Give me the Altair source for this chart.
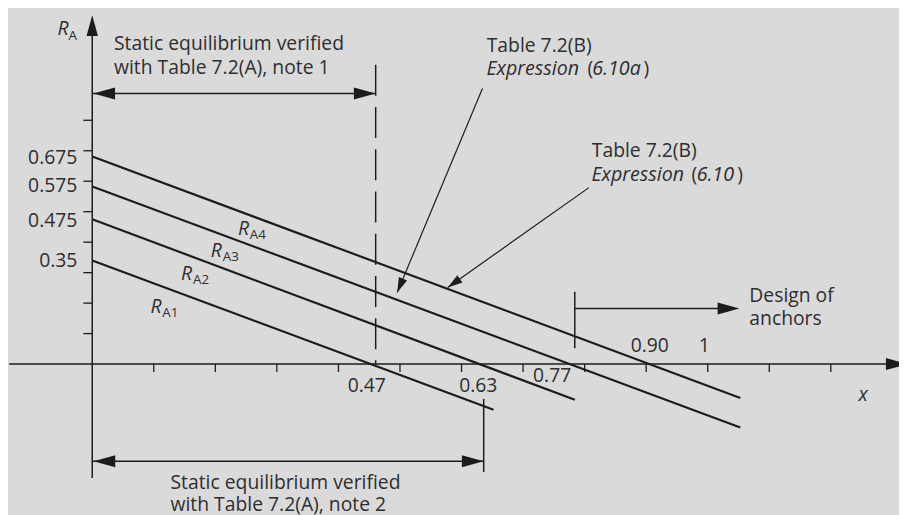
import altair as alt
import pandas as pd

# ---------------- data ----------------
# the four reaction lines R_A1..R_A4 (start on the R_A axis, end lower right)
series = ["A1", "A2", "A3", "A4"]
start_x = [0.0, 0.0, 0.0, 0.0]
start_r = [0.340, 0.475, 0.583, 0.681]
end_x = [0.652, 0.784, 1.053, 1.053]
end_r = [-0.150, -0.117, -0.208, -0.111]

# value labels on the R_A axis
r_labels = ["0.35", "0.475", "0.575", "0.675"]
r_label_y = [0.3187, 0.4488, 0.5659, 0.6569]

# axis ticks
x_ticks = [0.1, 0.2, 0.3, 0.4, 0.5, 0.6, 0.7, 0.8, 0.9, 1.0, 1.1, 1.2]
y_ticks = [0.1, 0.2, 0.3, 0.4, 0.5, 0.6, 0.7, 0.8]

# value labels along x
x_labels = ["0.47", "0.63", "0.77", "0.90", "1"]
x_label_x = [0.4461, 0.6272, 0.7472, 0.9058, 0.9944]
x_label_y = [-0.0911, -0.0911, -0.0585, 0.0390, 0.0390]

# limits
note1_x = 0.4605     # static equilibrium, note 1
note2_x = 0.636      # static equilibrium, note 2
anchors_x = 0.784    # design of anchors

# line labels (R part anchor)
line_label_x = [0.0945, 0.1444, 0.1927, 0.2367]
line_label_y = [0.1680, 0.2764, 0.3522, 0.4228]

# ---------------- scales ----------------
XMIN, XMAX = -0.136876, 1.310789
YMIN, YMAX = -0.487805, 1.160976
XS = alt.Scale(domain=[XMIN, XMAX], nice=False, zero=False)
YS = alt.Scale(domain=[YMIN, YMAX], nice=False, zero=False)

LINE = "#1c1c1c"
TXT = "#2e2e2e"
FONT = "Open Sans"
FS = 19.5


def X(f):
    return alt.X(f"{f}:Q", scale=XS, axis=None)


def Y(f):
    return alt.Y(f"{f}:Q", scale=YS, axis=None)


def seg_chart(df, **kw):
    return alt.Chart(df).mark_rule(color=LINE, **kw).encode(
        x=X("x"), y=Y("y"), x2="x2:Q", y2="y2:Q"
    )


# reaction lines
lines_df = pd.DataFrame({"s": series, "x": start_x, "y": start_r, "x2": end_x, "y2": end_r})
lines = seg_chart(lines_df, strokeWidth=2.2)

# axes
axes_df = pd.DataFrame({
    "x": [-0.135, 0.0],
    "y": [0.0, -0.374],
    "x2": [1.31, 0.0],
    "y2": [0.0, 1.12],
})
axes = seg_chart(axes_df, strokeWidth=1.5)

ytick_df = pd.DataFrame({"x": [0.0] * len(y_ticks), "y": y_ticks, "x2": [0.0] * len(y_ticks), "y2": y_ticks})
yticks = alt.Chart(ytick_df).mark_rule(color=LINE, strokeWidth=1.3, x2Offset=-9).encode(
    x=X("x"), y=Y("y"), x2="x2:Q"
)
xtick_df = pd.DataFrame({"x": x_ticks, "y": [0.0] * len(x_ticks), "y2": [0.0] * len(x_ticks)})
xticks = alt.Chart(xtick_df).mark_rule(color=LINE, strokeWidth=1.3, y2Offset=8).encode(
    x=X("x"), y=Y("y"), y2="y2:Q"
)

# dimension lines
dim_df = pd.DataFrame({
    "x": [0.0, note2_x, 0.0, anchors_x, anchors_x],
    "y": [0.888, -0.114, -0.3187, 0.237, 0.182],
    "x2": [note1_x, note2_x, note2_x, anchors_x, 1.04],
    "y2": [0.888, -0.354, -0.3187, 0.052, 0.182],
})
dims = seg_chart(dim_df, strokeWidth=1.5)

dash_df = pd.DataFrame({"x": [note1_x], "y": [0.982], "x2": [note1_x], "y2": [0.0]})
dashed = seg_chart(dash_df, strokeWidth=1.5, strokeDash=[31.3, 11.3])

leader_df = pd.DataFrame({
    "x": [0.634, 0.807],
    "y": [0.904, 0.579],
    "x2": [0.4955, 0.5776],
    "y2": [0.2351, 0.2514],
})
leaders = seg_chart(leader_df, strokeWidth=1.2)

# arrowheads (tip at the data point)
BIG = "M0,0L-2,-0.55L-2,0.55Z"
SMALL = "M0,0L-2,-0.6L-2,0.6Z"


def heads(xs, ys, angle, shape, size):
    df = pd.DataFrame({"x": xs, "y": ys})
    return alt.Chart(df).mark_point(
        shape=shape, size=size, angle=angle, filled=True, opacity=1, color=LINE
    ).encode(x=X("x"), y=Y("y"))


h_right = heads([note1_x, note2_x, 1.0515, 1.325], [0.888, -0.3187, 0.182, 0.0], 0, BIG, 484)
h_left = heads([0.0016, 0.002], [0.888, -0.3187], 180, BIG, 484)
h_up = heads([0.0], [1.1447], 270, BIG, 440)
h_l1 = heads([0.4955], [0.2351], 112.8, SMALL, 225)
h_l2 = heads([0.5776], [0.2514], 144.85, SMALL, 225)


def texts(xs, ys, labels, align="left", italic=False, size=FS, dx=0, dy=0):
    df = pd.DataFrame({"x": xs, "y": ys, "t": labels})
    kw = dict(align=align, baseline="alphabetic", font=FONT, fontSize=size, color=TXT, dx=dx, dy=dy)
    if italic:
        kw["fontStyle"] = "italic"
    return alt.Chart(df).mark_text(**kw).encode(x=X("x"), y=Y("y"), text="t:N")


t_rvals = texts([-0.0242] * 4, r_label_y, r_labels, align="right")
t_xvals = texts(x_label_x, x_label_y, x_labels, align="center")

# line labels R_Ai
t_lineR = texts(line_label_x, line_label_y, ["R"] * 4, italic=True)
t_lineSub = texts(line_label_x, line_label_y, series, size=13.5, dx=12, dy=4)

# axis titles
t_axR = texts([-0.0564], [1.0797], ["R"], italic=True)
t_axA = texts([-0.0564], [1.0797], ["A"], size=13.5, dx=11, dy=5)
t_axx = texts([1.2448], [-0.1203], ["x"], italic=True)

# notes
t_notes = texts(
    [0.0354, 0.0354, 0.1272, 0.1272, 0.6409, 0.8116, 1.0676, 1.0676],
    [1.0309, 0.9528, -0.4088, -0.4813, 1.0244, 0.6807, 0.2026, 0.1268],
    [
        "Static equilibrium verified",
        "with Table 7.2(A), note 1",
        "Static equilibrium verified",
        "with Table 7.2(A), note 2",
        "Table 7.2(B)",
        "Table 7.2(B)",
        "Design of",
        "anchors",
    ],
)
t_expr_it = texts(
    [0.6404, 0.8125, 0.8111, 0.9820],
    [0.9486, 0.9486, 0.6016, 0.6016],
    ["Expression", "6.10a", "Expression", "6.10"],
    italic=True,
    size=19.8,
)
t_expr_par = texts(
    [0.8045, 0.8955, 0.9735, 1.0480],
    [0.9486, 0.9486, 0.6016, 0.6016],
    ["(", ")", "(", ")"],
)

chart = alt.layer(
    axes, yticks, xticks, dims, dashed, leaders, lines,
    h_right, h_left, h_up, h_l1, h_l2,
    t_rvals, t_xvals, t_lineR, t_lineSub, t_axR, t_axA, t_axx,
    t_notes, t_expr_it, t_expr_par,
).properties(
    width=899, height=507,
    autosize=alt.AutoSizeParams(type="none"),
    padding=0,
    background="#dadada",
).configure_view(stroke=None)

chart.save("out.html", embed_options={"renderer": "svg", "actions": False})
